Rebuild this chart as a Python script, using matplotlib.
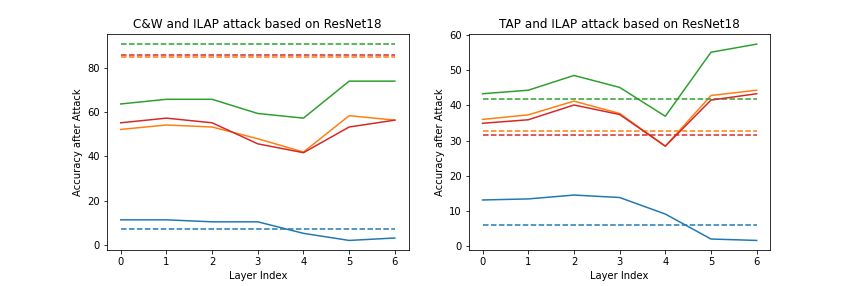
import numpy as np
import matplotlib
matplotlib.use('Agg')
import matplotlib.pyplot as plt

# Layer indices shared by both panels
layers = [0, 1, 2, 3, 4, 5, 6]
colorList = ['tab:blue', 'tab:orange', 'tab:green', 'tab:red']

# C&W panel: solid = ILAP per layer, dashed = baseline attack
cw_ilap = [
    [11.4, 11.4, 10.5, 10.5, 5.3, 2.1, 3.2],
    [52.2, 54.2, 53.3, 48.0, 42.0, 58.4, 56.4],
    [63.7, 65.8, 65.8, 59.4, 57.3, 74.0, 74.0],
    [55.2, 57.3, 55.2, 45.7, 41.7, 53.3, 56.4],
]
cw_base = [7.4, 84.9, 90.7, 85.8]

# TAP panel
tap_ilap = [
    [13.1, 13.4, 14.5, 13.8, 9.1, 2.0, 1.6],
    [36.0, 37.3, 41.2, 37.7, 28.4, 42.8, 44.3],
    [43.3, 44.3, 48.5, 45.1, 36.9, 55.1, 57.4],
    [34.9, 35.9, 40.1, 37.4, 28.4, 41.5, 43.3],
]
tap_base = [6.1, 32.8, 41.7, 31.6]

titles = ['C&W and ILAP attack based on ResNet18',
          'TAP and ILAP attack based on ResNet18']

fig, axes = plt.subplots(1, 2, figsize=(856/72, 286/72), dpi=72)
fig.subplots_adjust(left=0.125, right=0.9, top=0.88, bottom=0.125, wspace=0.2)

for ax, ilap, base, title in zip(axes, [cw_ilap, tap_ilap], [cw_base, tap_base], titles):
    for i in range(4):
        ax.plot(layers, ilap[i], color=colorList[i])
        ax.plot(layers, [base[i]] * len(layers), '--', color=colorList[i])
    ax.set_title(title)
    ax.set_xlabel('Layer Index')
    ax.set_ylabel('Accuracy after Attack')
    ax.set_xticks(layers)

plt.savefig('out.png', dpi=72)
